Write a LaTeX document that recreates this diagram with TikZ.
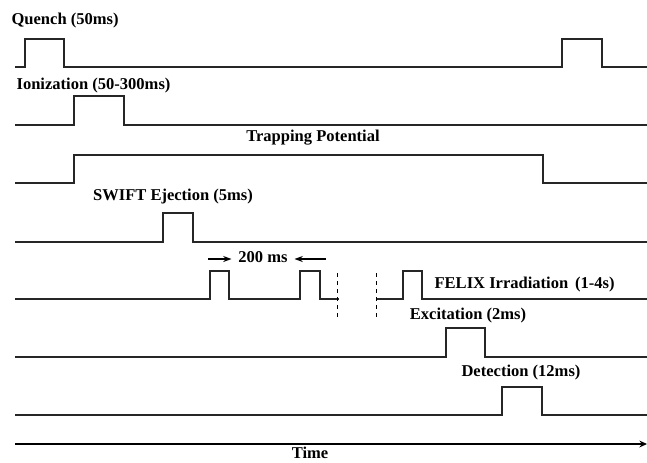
\documentclass[tikz,border=0pt]{standalone}
\usepackage{fontspec}
\setmainfont{Liberation Serif}
\usetikzlibrary{arrows.meta,positioning}
\tikzset{
  sigln/.style={line width=1.1pt, line join=miter, black!85},
  breakln/.style={dash pattern=on 3pt off 3pt, line width=0.6pt},
  spanarr/.style={-{Stealth[length=2.2mm,width=1.6mm]}, line width=0.9pt, shorten >=4pt},
  timeln/.style={-{Stealth[length=2mm,width=1.8mm]}, line width=0.9pt},
  lab/.style={font=\bfseries\fontsize{12.4}{13}\selectfont, inner sep=1pt},
}
% one rectangular pulse on a line at height #1 (low), #2 (high), from #3 to #4
\newcommand{\pulse}[4]{-- (#3,#1) -- (#3,#2) -- (#4,#2) -- (#4,#1)}
\begin{document}
\begin{tikzpicture}[x=0.75pt, y=-0.75pt]
    \useasboundingbox (0,0) rectangle (647,462);
    % quench
    \draw[sigln] (15,67) \pulse{67}{39}{25}{64} \pulse{67}{39}{562}{602} -- (647,67);
    \node[lab, anchor=west] (quench) at (10,21) {Quench (50ms)};
    % ionization
    \draw[sigln] (15,125) \pulse{125}{96}{74}{124} -- (647,125);
    \node[lab, anchor=west] (ioniz) at (15,86) {Ionization (50-300ms)};
    % trapping potential
    \draw[sigln] (15,183) \pulse{183}{155}{74}{543} -- (647,183);
    \node[lab] (trap) at (313,138) {Trapping Potential};
    % swift ejection
    \draw[sigln] (15,242) \pulse{242}{213}{163}{193} -- (647,242);
    \node[lab] (swift) at (173,197) {SWIFT Ejection (5ms)};
    % felix irradiation, with a break in time
    \draw[sigln] (15,299) \pulse{299}{271}{210}{229} \pulse{299}{271}{300}{320} -- (339,299);
    \draw[sigln] (376,299) \pulse{299}{271}{403}{422} -- (647,299);
    \coordinate (brkA) at (337,273);
    \coordinate (brkB) at (376,273);
    \draw[breakln] (brkA) -- ++(0,44);
    \draw[breakln] (brkB) -- ++(0,44);
    \node[lab, anchor=west] (felix) at (433,285) {FELIX Irradiation\, (1-4s)};
    % spacing of the felix pulses
    \node[lab] (span) at (263,257) {200 ms};
    \coordinate (spanL) at (208,259);
    \coordinate (spanR) at (326,259);
    \draw[spanarr] (spanL) -- (span.west |- spanL);
    \draw[spanarr] (spanR) -- (span.east |- spanR);
    % excitation
    \draw[sigln] (15,357) \pulse{357}{328}{446}{485} -- (647,357);
    \node[lab] (excit) at (468,316) {Excitation (2ms)};
    % detection
    \draw[sigln] (15,415) \pulse{415}{387}{502}{542} -- (647,415);
    \node[lab] (detect) at (521,373) {Detection (12ms)};
    % time axis
    \coordinate (t0) at (15,444);
    \coordinate (t1) at (647,444);
    \draw[timeln] (t0) -- (t1);
    \node[lab] (time) at (310,453) {Time};
  \end{tikzpicture}
\end{document}
